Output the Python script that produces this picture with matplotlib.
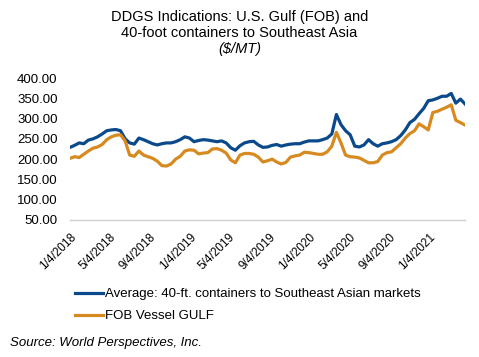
import matplotlib
matplotlib.use("Agg")
import matplotlib.pyplot as plt
import matplotlib.dates as mdates
import pandas as pd
import numpy as np

plt.rcParams['font.family'] = ['Liberation Sans', 'DejaVu Sans']

dates = pd.date_range("2018-01-04", periods=87, freq="14D")

container_avg = [229, 234, 240, 238, 247, 250, 255, 262, 270, 272,
                 273, 270, 250, 240, 237, 252, 248, 243, 238, 235,
                 238, 240, 240, 243, 248, 255, 252, 243, 246, 248,
                 247, 245, 243, 245, 240, 228, 222, 233, 240, 243,
                 244, 235, 229, 230, 234, 236, 232, 235, 237, 238,
                 238, 242, 245, 245, 245, 248, 252, 262, 310, 285,
                 270, 260, 232, 230, 235, 248, 238, 232, 238, 240,
                 243, 248, 258, 272, 290, 298, 312, 325, 344, 346,
                 350, 355, 355, 362, 338, 348, 336]

fob_gulf = [202, 206, 204, 212, 220, 227, 230, 236, 248, 255,
            259, 260, 245, 210, 207, 220, 210, 206, 202, 195,
            184, 183, 188, 200, 207, 220, 223, 222, 213, 215,
            216, 225, 226, 222, 215, 198, 191, 210, 214, 214,
            212, 205, 193, 196, 200, 193, 188, 192, 205, 208,
            210, 217, 216, 214, 212, 212, 218, 232, 266, 240,
            210, 206, 205, 203, 197, 191, 191, 194, 210, 216,
            218, 228, 238, 252, 263, 270, 287, 280, 272, 315,
            318, 323, 328, 334, 296, 290, 284]

tick_dates = pd.to_datetime(["2018-01-04", "2018-05-04", "2018-09-04",
                             "2019-01-04", "2019-05-04", "2019-09-04",
                             "2020-01-04", "2020-05-04", "2020-09-04",
                             "2021-01-04"])
tick_labels = ["1/4/2018", "5/4/2018", "9/4/2018", "1/4/2019", "5/4/2019",
               "9/4/2019", "1/4/2020", "5/4/2020", "9/4/2020", "1/4/2021"]
yticks = [50, 100, 150, 200, 250, 300, 350, 400]

blue = "#0B4A8A"
orange = "#D68A1F"

fig = plt.figure(figsize=(4.79, 3.57), dpi=100)
ax = fig.add_axes([70/479, 1-220/357, (465-70)/479, (220-78)/357])

ax.plot(dates, container_avg, color=blue, lw=2.3,
        label="Average: 40-ft. containers to Southeast Asian markets")
ax.plot(dates, fob_gulf, color=orange, lw=2.3, label="FOB Vessel GULF")

ax.set_ylim(50, 400)
ax.set_xlim(dates[0], dates[-1])
ax.set_yticks(yticks)
ax.set_yticklabels([f"{v:.2f}" for v in yticks], fontsize=9.5)
ax.set_xticks(tick_dates)
ax.set_xticklabels(tick_labels, rotation=45, ha="right", va="top",
                   rotation_mode="anchor", fontsize=8.5)
ax.tick_params(axis="both", length=0)
ax.tick_params(axis="y", pad=9)
ax.tick_params(axis="x", pad=8)
for s in ["top", "right", "left"]:
    ax.spines[s].set_visible(False)
ax.spines["bottom"].set_color("#D0D0D0")
ax.spines["bottom"].set_linewidth(1)

fig.text(0.5, 1-17/357, "DDGS Indications: U.S. Gulf (FOB) and", ha="center",
         va="center", fontsize=10.5)
fig.text(0.5, 1-33/357, "40-foot containers to Southeast Asia", ha="center",
         va="center", fontsize=10.5)
fig.text(0.5, 1-49/357, "($/MT)", ha="center", va="center", fontsize=10.5,
         style="italic")

fig.legend(loc="upper left", bbox_to_anchor=(75/479, 1-288/357), frameon=False,
           fontsize=9.5, handlelength=2.1, handletextpad=0.15, labelspacing=0.75,
           borderpad=0, borderaxespad=0)

fig.text(10/479, 1-343/357, "Source: World Perspectives, Inc.", ha="left",
         va="center", fontsize=9.5, style="italic")

fig.savefig("out.png", dpi=100)
